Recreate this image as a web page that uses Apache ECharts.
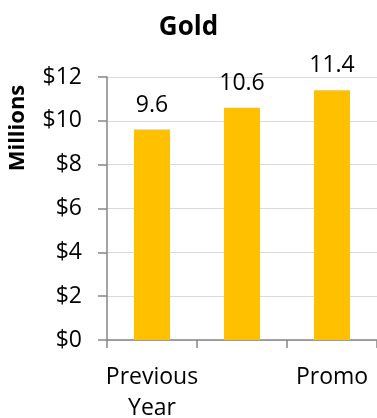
<!DOCTYPE html>
<html><head><meta charset="utf-8">
<script src="https://cdn.jsdelivr.net/npm/echarts@6/dist/echarts.min.js"></script>
<style>html,body{margin:0;padding:0;background:#fff}#c{width:377px;height:418px}</style>
</head><body><div id="c"></div>
<script>
var categories = ['Previous\nYear', '', 'Promo'];
var values = [9.6, 10.6, 11.4];
var yTicks = [0, 2, 4, 6, 8, 10, 12];
var titleText = 'Gold';
var yName = 'Millions';
var FONT = 'Open Sans';
var chart = echarts.init(document.getElementById('c'));
chart.setOption({
  animation: false,
  title: { text: titleText, left: 'center', top: 10, textStyle: { fontFamily: FONT, fontWeight: 'bold', fontSize: 26, color: '#000' } },
  grid: { left: 107, right: 0, top: 77, bottom: 78, containLabel: false, outerBoundsMode: 'none' },
  graphic: [{ type: 'text', x: 18, y: 128, rotation: Math.PI / 2, style: { text: yName, font: 'bold 22px "Open Sans"', fill: '#000', textAlign: 'center', textVerticalAlign: 'middle' } }],
  xAxis: {
    type: 'category', data: categories,
    axisLine: { lineStyle: { color: '#868686', width: 1.5 } },
    axisTick: { show: true, alignWithLabel: false, length: 8, lineStyle: { color: '#868686', width: 1.5 } },
    axisLabel: { interval: 0, color: '#000', fontFamily: FONT, fontSize: 23, lineHeight: 31, margin: 22 }
  },
  yAxis: {
    type: 'value', min: yTicks[0], max: yTicks[yTicks.length - 1], interval: 2,
    axisLine: { show: true, lineStyle: { color: '#868686', width: 1.5 } },
    axisTick: { show: true, length: 9, lineStyle: { color: '#868686', width: 1.5 } },
    splitLine: { lineStyle: { color: '#d9d9d9', width: 1 } },
    axisLabel: { color: '#000', fontFamily: FONT, fontSize: 23, margin: 25, formatter: function (v) { return '$' + v; } }
  },
  series: [{
    type: 'bar', data: values, barWidth: '40%',
    itemStyle: { color: '#FFC000' },
    label: { show: true, position: 'top', distance: 13, color: '#000', fontFamily: FONT, fontSize: 23, formatter: function (p) { return p.value.toFixed(1); } }
  }]
});
</script></body></html>
